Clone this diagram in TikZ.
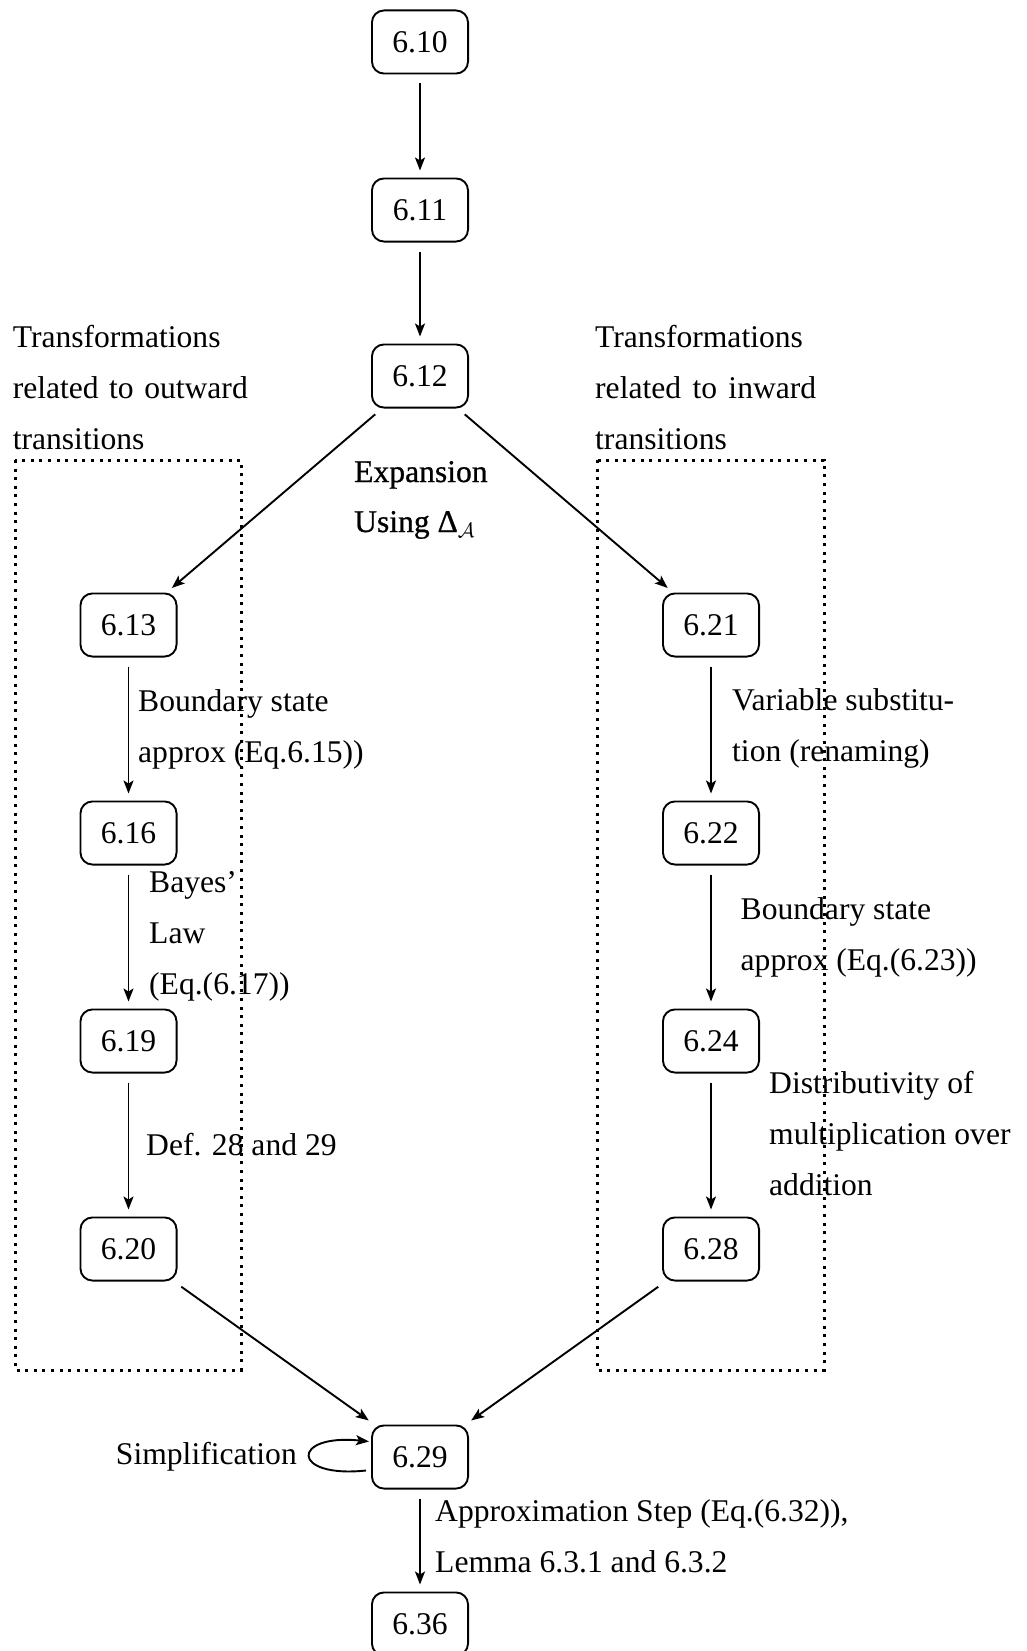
\documentclass[tikz,border=0pt]{standalone}
\usepackage{fontspec}
\setmainfont{Liberation Serif}
\newfontfamily\heavyserif[FakeBold=0.8]{Liberation Serif}
\usetikzlibrary{arrows.meta,calc}

\begin{document}
\begin{tikzpicture}[x=1pt,y=-1pt,
  every node/.style={font=\fontsize{31.6}{51}\selectfont},
  stepbox/.style={draw, line width=1.9pt, rounded corners=12pt,
    minimum width=96.1pt, minimum height=63.1pt, inner sep=0pt},
  % multi-line notes are anchored at the baseline of their last line
  note/.style={anchor=base west, align=left, inner sep=0pt},
  arr/.style={line width=1.9pt, -{Stealth[length=13pt,width=10pt,inset=3pt]},
    shorten <=9pt, shorten >=7pt},
  region/.style={line width=3pt, dash pattern=on 3pt off 5.6pt}
]
\useasboundingbox (0,0) rectangle (1026,1651);

% main chain
\node[stepbox] (n10) at (420,42)   {6.10};
\node[stepbox] (n11) at (420,210)  {6.11};
\node[stepbox] (n12) at (420,376)  {6.12};
% outward branch
\node[stepbox] (n13) at (128.5,625)  {6.13};
\node[stepbox] (n16) at (128.5,833)  {6.16};
\node[stepbox] (n19) at (128.5,1041) {6.19};
\node[stepbox] (n20) at (128.5,1249) {6.20};
% inward branch
\node[stepbox] (n21) at (711,625)  {6.21};
\node[stepbox] (n22) at (711,833)  {6.22};
\node[stepbox] (n24) at (711,1041) {6.24};
\node[stepbox] (n28) at (711,1249) {6.28};
% merge
\node[stepbox] (n29) at (420,1457) {6.29};
\node[stepbox] (n36) at (420,1624) {6.36};

% dotted regions
\draw[region] (15,460) rectangle (241,1370);
\draw[region] (597,460) rectangle (824,1370);

% region titles
\node[note] (tout) at (12.6,449)
  {Transformations\\\makebox[235pt][s]{related to outward}\\transitions};
\node[note] (tin) at (595,449)
  {Transformations\\\makebox[221pt][s]{related to inward}\\transitions};

% connectors
\draw[arr] (n10) -- (n11);
\draw[arr] (n11) -- (n12);
\draw[arr] (n12) -- (n13);
\draw[arr] (n12) -- (n21);
\draw[arr] (n13) -- (n16);
\draw[arr] (n16) -- (n19);
\draw[arr] (n19) -- (n20);
\draw[arr] (n21) -- (n22);
\draw[arr] (n22) -- (n24);
\draw[arr] (n24) -- (n28);
\draw[arr] (n20) -- (n29);
\draw[arr] (n28) -- (n29);
\draw[arr] (n29) -- (n36);

% self loop on 6.29
\coordinate (loopa) at ($(n29.west)+(-5,13.5)$);
\coordinate (loopb) at ($(n29.west)+(-2,-15.5)$);
\draw[line width=1.9pt, -{Stealth[length=13pt,width=10pt,inset=3pt]}]
  (loopa) .. controls ($(loopa)+(-76,8)$) and ($(loopb)+(-78,-8)$) .. (loopb);

% edge labels
\node[note, font={\heavyserif\fontsize{31.6}{50}\selectfont}] (lexp) at (354,532)
  {Expansion\\Using Δ$_{\mathcal{A}}$};
\node[note] (l1316) at (138,762) {Boundary state\\approx (Eq.6.15))};
\node[note] (l1619) at (149,994) {Bayes’\\Law\\(Eq.(6.17))};
\node[note] (l1920) at (146,1155) {Def. 28 and 29};
\node[note] (l2122) at (732,761) {Variable substitu-\\tion (renaming)};
\node[note] (l2224) at (740.5,970) {Boundary state\\approx (Eq.(6.23))};
\node[note] (l2428) at (769,1195) {Distributivity of\\multiplication over\\addition};
\node[note, anchor=base east] (lsimp) at (297,1464) {Simplification};
\node[note] (l2936) at (435,1572) {Approximation Step (Eq.(6.32)),\\Lemma 6.3.1 and 6.3.2};
\end{tikzpicture}
\end{document}
